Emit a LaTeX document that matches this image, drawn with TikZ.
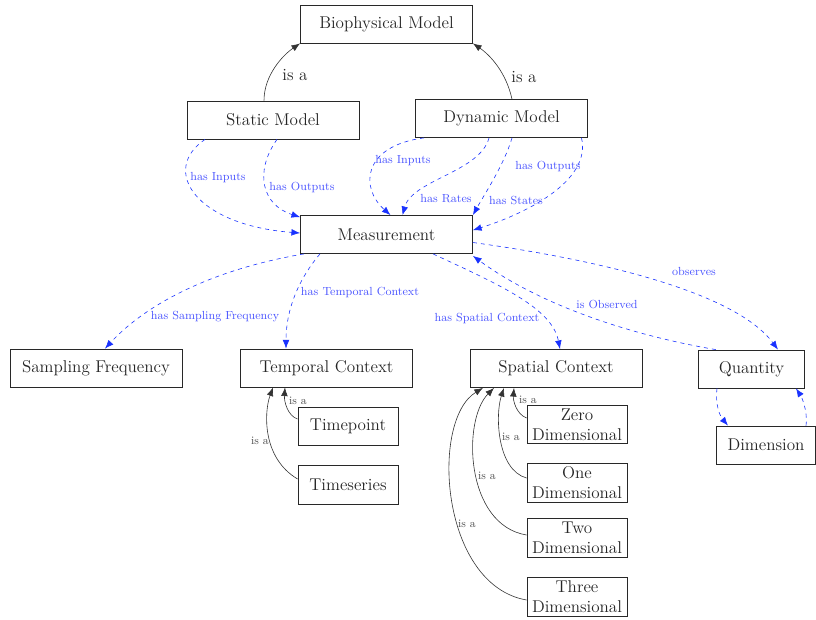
\documentclass[tikz,border=0pt]{standalone}
\usetikzlibrary{arrows.meta,calc}
\definecolor{edgeblue}{RGB}{25,50,255}
\definecolor{lblblue}{RGB}{75,85,255}
\definecolor{boxgray}{RGB}{40,40,40}
\tikzset{
  box/.style={draw=boxgray,line width=0.6pt,minimum width=129pt,minimum height=28.5pt,inner sep=1pt,font=\fontsize{12.8}{15}\selectfont,text=black!85},
  smallbox/.style={box,minimum width=75pt,minimum height=29pt,align=center},
  rel/.style={draw=edgeblue,dashed,line width=0.45pt,-{Latex[length=6.5pt,width=5pt]}},
  isa/.style={draw=black!80,line width=0.45pt,-{Latex[length=6.5pt,width=5pt]}},
  bluelbl/.style={text=lblblue,font=\fontsize{8.8}{10}\selectfont,inner sep=0pt},
  smalllbl/.style={text=black!70,font=\fontsize{8.5}{10}\selectfont,inner sep=0pt},
  biglbl/.style={text=black!85,font=\fontsize{12.8}{15}\selectfont,inner sep=0pt}
}
\begin{document}
\begin{tikzpicture}[x=0.75pt,y=-0.75pt]
\useasboundingbox (0,0) rectangle (816,619);
% nodes
\node[box] (bio) at (386.5,24) {Biophysical Model};
\node[box] (static) at (273,120) {Static Model};
\node[box] (dyn) at (501.5,118.5) {Dynamic Model};
\node[box] (meas) at (386.5,234.5) {Measurement};
\node[box] (samp) at (96,368) {Sampling Frequency};
\node[box] (temp) at (326.5,368) {Temporal Context};
\node[box] (spat) at (556,368.5) {Spatial Context};
\node[box,minimum width=80pt] (quant) at (751.5,369) {Quantity};
\node[box,minimum width=74.5pt] (dim) at (766,445) {Dimension};
\node[smallbox] (tp) at (348,426.5) {Timepoint};
\node[smallbox] (ts) at (348,485) {Timeseries};
\node[smallbox] (zero) at (577,424.5) {Zero\\Dimensional};
\node[smallbox] (one) at (577,483) {One\\Dimensional};
\node[smallbox] (two) at (577,538) {Two\\Dimensional};
\node[smallbox] (three) at (577,597) {Three\\Dimensional};
% is a (top)
\draw[isa] ($(static.north)+(-9,0)$) .. controls (264,75) and (283,55) .. (bio.south west);
\draw[isa] ($(dyn.north)+(10.5,0)$) .. controls (506,72) and (490,55) .. (bio.south east);
\node[biglbl] (l1) at (295,75) {is a};
\node[biglbl] (l2) at (524,77) {is a};
% static -> measurement
\draw[rel] ($(static.south)+(-68,0)$) .. controls (160,170) and (195,225) .. ($(meas.west)+(0,-1.5)$);
\draw[rel] ($(static.south)+(4,0)$) .. controls (254,172) and (262,205) .. ($(meas.north west)+(0,2)$);
\node[bluelbl] (l3) at (218,178) {has Inputs};
\node[bluelbl] (l4) at (302,187) {has Outputs};
% dynamic -> measurement
\draw[rel] ($(dyn.south)+(-77.5,0)$) .. controls (362,146) and (360,188) .. ($(meas.north)+(4,0)$);
\draw[rel] ($(dyn.south)+(-12.5,0)$) .. controls (480,172) and (412,180) .. ($(meas.north)+(16,0)$);
\draw[rel] ($(dyn.south)+(10.5,0)$) .. controls (504,165) and (484,195) .. (meas.north east);
\draw[rel] ($(dyn.south)+(80,0)$) .. controls (592,182) and (522,215) .. ($(meas.north east)+(0,15)$);
\node[bluelbl] (l5) at (403,161) {has Inputs};
\node[bluelbl] (l6) at (446,199) {has Rates};
\node[bluelbl] (l7) at (516,200) {has States};
\node[bluelbl] (l8) at (548,166) {has Outputs};
% measurement -> others
\draw[rel] ($(meas.south west)+(4,0)$) .. controls (220,268) and (150,300) .. ($(samp.north)+(9,0)$);
\draw[rel] ($(meas.south)+(-66.5,0)$) .. controls (298,280) and (286,310) .. ($(temp.north)+(-40.5,0)$);
\draw[rel] ($(meas.south)+(46.5,0)$) .. controls (500,285) and (552,308) .. ($(spat.north)+(4,0)$);
\draw[rel] ($(meas.east)+(0,8)$) .. controls (600,260) and (735,292) .. ($(quant.north)+(26.5,0)$);
\draw[rel] ($(quant.north west)+(18,0)$) .. controls (630,335) and (540,305) .. ($(meas.south east)+(0,2)$);
\node[bluelbl] (l9) at (215,317) {has Sampling Frequency};
\node[bluelbl] (l10) at (360,292) {has Temporal Context};
\node[bluelbl] (l11) at (487,318) {has Spatial Context};
\node[bluelbl] (l12) at (694,271) {observes};
\node[bluelbl] (l13) at (607,304) {is Observed};
% quantity <-> dimension
\draw[rel] ($(quant.south)+(-34.5,0)$) .. controls (715,405) and (720,416) .. ($(dim.north)+(-38,0)$);
\draw[rel] ($(dim.north)+(40,0)$) .. controls (808,410) and (801,396) .. ($(quant.south)+(44.5,0)$);
% temporal is a
\draw[isa] ($(tp.west)+(0,-7.5)$) .. controls (288,416) and (284,402) .. ($(temp.south)+(-41.5,0)$);
\draw[isa] ($(ts.west)+(0,-6)$) .. controls (262,458) and (264,412) .. ($(temp.south)+(-53.5,0)$);
\node[smalllbl] (l14) at (298,401) {is a};
\node[smalllbl] (l15) at (260,441) {is a};
% spatial is a
\draw[isa] ($(zero.west)+(0,-6.5)$) .. controls (516,414) and (513,400) .. ($(spat.south)+(-42,0)$);
\draw[isa] ($(one.west)+(0,-5)$) .. controls (497,470) and (495,415) .. ($(spat.south)+(-52,0)$);
\draw[isa] ($(two.west)+(0,-3)$) .. controls (465,525) and (462,420) .. ($(spat.south)+(-62,0)$);
\draw[isa] ($(three.west)+(0,3)$) .. controls (440,585) and (430,420) .. ($(spat.south)+(-73,0)$);
\node[smalllbl] (l16) at (528,400) {is a};
\node[smalllbl] (l17) at (511,437) {is a};
\node[smalllbl] (l18) at (487,476) {is a};
\node[smalllbl] (l19) at (467,524) {is a};
\end{tikzpicture}
\end{document}
